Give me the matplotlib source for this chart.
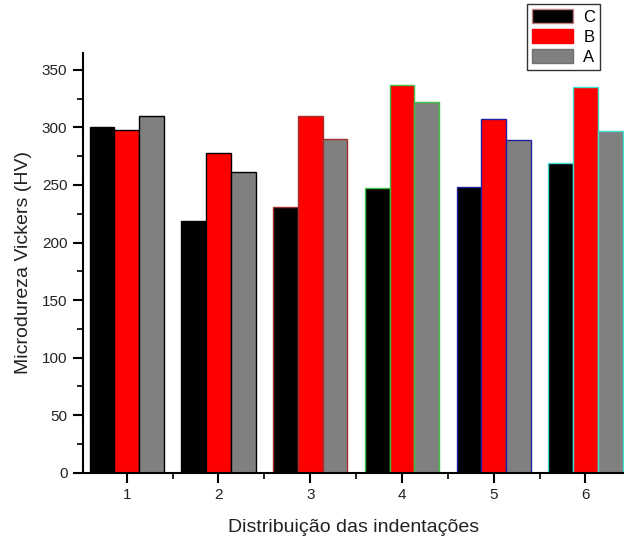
import matplotlib.pyplot as plt
import numpy as np
from matplotlib.patches import Patch
from matplotlib.ticker import MultipleLocator

plt.rcParams['font.family'] = ['Liberation Sans', 'DejaVu Sans']

# Data
groups = [1, 2, 3, 4, 5, 6]
serie_c = [300, 219, 231, 247, 248, 269]
serie_b = [298, 278, 310, 337, 307, 335]
serie_a = [310, 261, 290, 322, 289, 297]
edge_cols = ['black', 'black', '#a03030', '#40c040', '#2020a0', '#40e0d0']

fig = plt.figure(figsize=(6.24, 5.42), dpi=100)
ax = fig.add_axes([0.1325, 0.128, 0.8675, 0.774])

x = np.array(groups)
w = 0.27
ax.bar(x - w, serie_c, w, color='black', edgecolor=edge_cols, linewidth=1)
ax.bar(x, serie_b, w, color='#ff0000', edgecolor=edge_cols, linewidth=1)
ax.bar(x + w, serie_a, w, color='#808080', edgecolor=edge_cols, linewidth=1)

ax.set_xlim(0.52, 6.42)
ax.set_ylim(0, 364.6)
ax.set_xticks(groups)
ax.xaxis.set_minor_locator(MultipleLocator(0.5))
ax.yaxis.set_major_locator(MultipleLocator(50))
ax.yaxis.set_minor_locator(MultipleLocator(25))

for s in ['top', 'right']:
    ax.spines[s].set_visible(False)
for s in ['left', 'bottom']:
    ax.spines[s].set_linewidth(1.5)

ax.tick_params(which='major', direction='out', length=7, width=1.5, labelsize=11,
               pad=4, labelcolor='#222222')
ax.tick_params(which='minor', direction='out', length=4, width=1.2)

ax.set_xlabel('Distribuição das indentações', fontsize=14, labelpad=12, color='#222222')
ax.set_ylabel('Microdureza Vickers (HV)', fontsize=14, labelpad=7, color='#222222')

handles = [Patch(facecolor='black', edgecolor='#c08080', label='C'),
           Patch(facecolor='#ff0000', edgecolor='#ff0000', label='B'),
           Patch(facecolor='#808080', edgecolor='#707070', label='A')]
leg = fig.legend(handles=handles, loc='upper right', bbox_to_anchor=(0.962, 0.993),
                 fontsize=12, frameon=True, fancybox=False, edgecolor='black',
                 handlelength=2.5, handleheight=0.95, borderpad=0.3, labelspacing=0.25,
                 handletextpad=0.6, borderaxespad=0)
leg.get_frame().set_linewidth(1.0)

fig.savefig('out.png', dpi=100)
